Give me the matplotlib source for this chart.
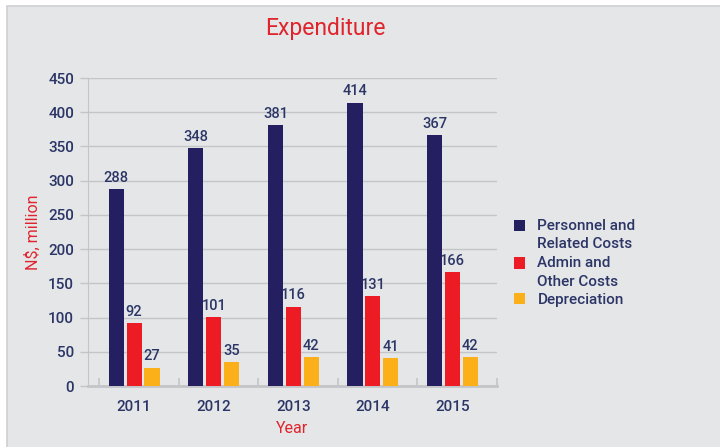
import matplotlib.pyplot as plt
from matplotlib.patches import Rectangle
import numpy as np

years = ['2011', '2012', '2013', '2014', '2015']
personnel = [288, 348, 381, 414, 367]
admin = [92, 101, 116, 131, 166]
depreciation = [27, 35, 42, 41, 42]
series_names = ['Personnel and\nRelated Costs', 'Admin and\nOther Costs', 'Depreciation']

NAVY = '#241f60'
RED = '#ed1c24'
ORANGE = '#fbb01a'
TXT = '#2b3566'
TITLE_RED = '#e0242c'
GRID = '#c4c5c8'
BG = '#e5e6e8'

plt.rcParams['font.family'] = ['Roboto', 'DejaVu Sans']
plt.rcParams['font.weight'] = 'medium'

fig = plt.figure(figsize=(7.2, 4.47), dpi=100)
fig.patch.set_facecolor('white')
# grey panel behind the chart
fig.patches.append(Rectangle((7 / 720, -0.01), 1.0, (447 - 6) / 447 + 0.01,
                             transform=fig.transFigure, facecolor=BG,
                             edgecolor='#cfd0d3', linewidth=1.2, zorder=-10))

ax = fig.add_axes([88 / 720, 1 - 386 / 447, (497 - 88) / 720, (386 - 78) / 447])
ax.set_facecolor('none')
ax.set_zorder(1)

x = np.arange(len(years))
step = 0.225
width = 0.19
for i, (vals, col) in enumerate(zip([personnel, admin, depreciation], [NAVY, RED, ORANGE])):
    bars = ax.bar(x + (i - 1) * step + 0.02, vals, width, color=col, label=series_names[i], zorder=3)
    for b, v in zip(bars, vals):
        ax.annotate(str(v), (b.get_x() + b.get_width() / 2, v), textcoords='offset points',
                    xytext=(0, 3), ha='center', va='bottom', fontsize=10.5, color=TXT)

ax.set_xlim(-0.56, 4.51)
ax.set_ylim(0, 450)
ax.set_yticks(np.arange(0, 451, 50))
ax.set_xticks(x + 0.02)
ax.set_xticklabels(years)
ax.set_xticks(np.arange(6) - 0.42, minor=True)
ax.grid(axis='y', color=GRID, linewidth=1, zorder=0)
ax.tick_params(axis='y', colors=GRID, labelcolor=TXT, labelsize=11, length=6, width=1, pad=4)
ax.tick_params(axis='x', which='major', length=0, labelcolor=TXT, labelsize=11, pad=10)
ax.tick_params(axis='x', which='minor', direction='in', length=6, width=1.2, colors=GRID)
for s in ['top', 'right']:
    ax.spines[s].set_visible(False)
ax.spines['left'].set_color(GRID)
ax.spines['bottom'].set_color(GRID)
ax.spines['bottom'].set_linewidth(2)

ax.set_xlabel('Year', color=TITLE_RED, fontsize=11.5, fontweight='normal', labelpad=5)
fig.text(33 / 720, 1 - 232 / 447, 'N$, million', rotation=90, color=TITLE_RED,
         fontsize=11.5, fontweight='normal', ha='center', va='center')
fig.text(325 / 720, 1 - 28 / 447, 'Expenditure', color=TITLE_RED, fontsize=16.5,
         fontweight='normal', ha='center', va='center')

leg = fig.legend(loc='upper left', bbox_to_anchor=(500 / 720, 1 - 205 / 447),
                 frameon=False, fontsize=11, handlelength=0.75, handleheight=0.75,
                 handletextpad=0.8, labelspacing=0.3, labelcolor=TXT)
for t in leg.get_texts():
    t.set_linespacing(1.42)
# put the square next to the first line of two-line labels
for h, name in zip(leg.legend_handles, series_names):
    if '\n' in name:
        h.set_y(h.get_y() + 6.8)

fig.savefig('out.png', dpi=100)
